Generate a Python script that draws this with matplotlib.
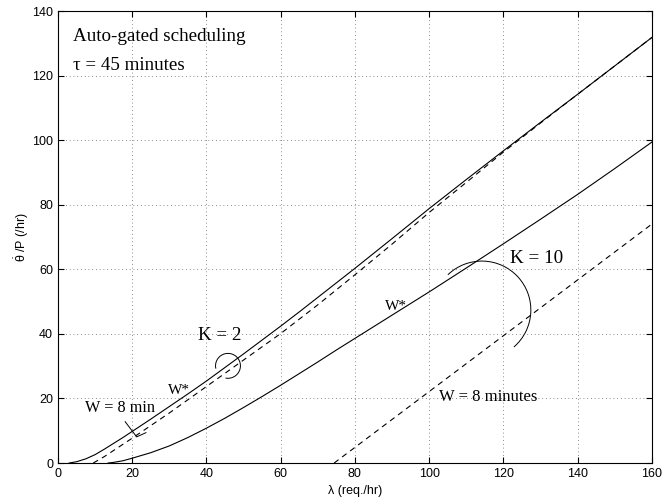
import matplotlib
matplotlib.use("Agg")
import matplotlib.pyplot as plt
from matplotlib.patches import Arc

plt.rcParams["font.family"] = ["Liberation Sans", "DejaVu Sans"]
plt.rcParams["mathtext.fontset"] = "custom"
plt.rcParams["mathtext.rm"] = "Liberation Sans"
plt.rcParams["mathtext.it"] = "Liberation Sans:italic"

# Throughput vs. arrival rate, auto-gated scheduling, tau = 45 min
lam_k2_opt = [3, 5, 7.5, 10, 12.5, 15, 17.5, 20, 25, 30, 35, 40, 45, 50, 55, 60, 65, 70,
              80, 90, 100, 110, 120, 130, 140, 150, 160]
thr_k2_opt = [0, 0.4, 1.3, 2.6, 4.3, 6.1, 7.9, 9.8, 13.6, 17.5, 21.4, 25.4, 29.6, 33.8, 38.1,
              42.4, 46.8, 51.3, 60.3, 69.5, 78.8, 87.8, 96.7, 105.5, 114.2, 123, 131.8]

lam_k2_w8 = [9.5, 12.5, 15, 17.5, 20, 25, 30, 35, 40, 45, 50, 55, 60, 70, 80, 90, 100,
             110, 120, 130, 140, 150, 160]
thr_k2_w8 = [0, 2.0, 3.9, 5.8, 7.7, 11.6, 15.5, 19.6, 23.7, 27.8, 31.9, 36, 40.1, 49, 58.3,
             67.8, 77.6, 86.9, 96.3, 105.3, 114.2, 123, 131.8]

lam_k10_opt = [13.5, 15, 17.5, 20, 25, 30, 35, 40, 45, 50, 55, 60, 65, 70, 75, 80, 90, 100,
               110, 120, 130, 140, 150, 160]
thr_k10_opt = [0, 0.2, 0.7, 1.5, 3.2, 5.3, 7.9, 10.8, 13.9, 17.2, 20.6, 24.1, 27.7, 31.3, 35,
               38.6, 45.8, 53, 60.4, 67.9, 75.5, 83.2, 91.2, 99.4]

lam_k10_w8 = [74.4, 160]
thr_k10_w8 = [0, 74]

x_ticks = [0, 20, 40, 60, 80, 100, 120, 140, 160]
y_ticks = [0, 20, 40, 60, 80, 100, 120, 140]

fig = plt.figure(figsize=(6.72, 5.01), dpi=100)
ax = fig.add_axes([0.0863, 0.0758, 0.8837, 0.9022])

lw = 0.8
ax.plot(lam_k2_opt, thr_k2_opt, color="black", lw=lw)
ax.plot(lam_k2_w8, thr_k2_w8, color="black", lw=lw, dashes=(5, 4))
ax.plot(lam_k10_opt, thr_k10_opt, color="black", lw=lw)
ax.plot(lam_k10_w8, thr_k10_w8, color="black", lw=lw, dashes=(5, 4))

ax.set_xlim(0, 160)
ax.set_ylim(0, 140)
ax.set_xticks(x_ticks)
ax.set_yticks(y_ticks)
ax.tick_params(direction="in", top=True, right=True, labelsize=9, length=4, width=0.8)
ax.grid(True, color="#666666", linestyle=(0, (1, 3.5)), linewidth=0.6)
for s in ax.spines.values():
    s.set_linewidth(0.8)

ax.set_xlabel("λ (req./hr)", fontsize=9, labelpad=4)
ax.set_ylabel(r"$\dot{\mathrm{\theta}}$ /P (/hr)", fontsize=9, labelpad=1)

serif = ["Liberation Serif", "DejaVu Serif"]
ax.text(4, 132, "Auto-gated scheduling", family=serif, fontsize=13.7, va="center")
ax.text(4, 123, "τ = 45 minutes", family=serif, fontsize=13.7, va="center")

ax.text(43.5, 39.5, "K = 2", family=serif, fontsize=13.7, ha="center", va="center")
ax.text(129, 63.5, "K = 10", family=serif, fontsize=13.8, ha="center", va="center")

ax.text(32.6, 22.6, "W*", family=serif, fontsize=11, ha="center", va="center")
ax.text(91, 48.6, "W*", family=serif, fontsize=11, ha="center", va="center")
ax.text(16.7, 16.9, "W = 8 min", family=serif, fontsize=11.7, ha="center", va="center")
ax.text(115.8, 20.6, "W = 8 minutes", family=serif, fontsize=12, ha="center", va="center")

# pointer from the "W = 8 min" label to the dashed curve
ax.plot([18.1, 21.2, 23.7], [12.8, 8.1, 9.4], color="black", lw=0.7)

# arcs marking each pair of curves
ax.add_patch(Arc((45.8, 30.1), 6.7, 7.7, theta1=-100, theta2=195, color="black", lw=0.7))
ax.add_patch(Arc((114.2, 47.4), 26.4, 30.3, theta1=-53, theta2=130, color="black", lw=0.7))

fig.savefig("out.png", dpi=100)
